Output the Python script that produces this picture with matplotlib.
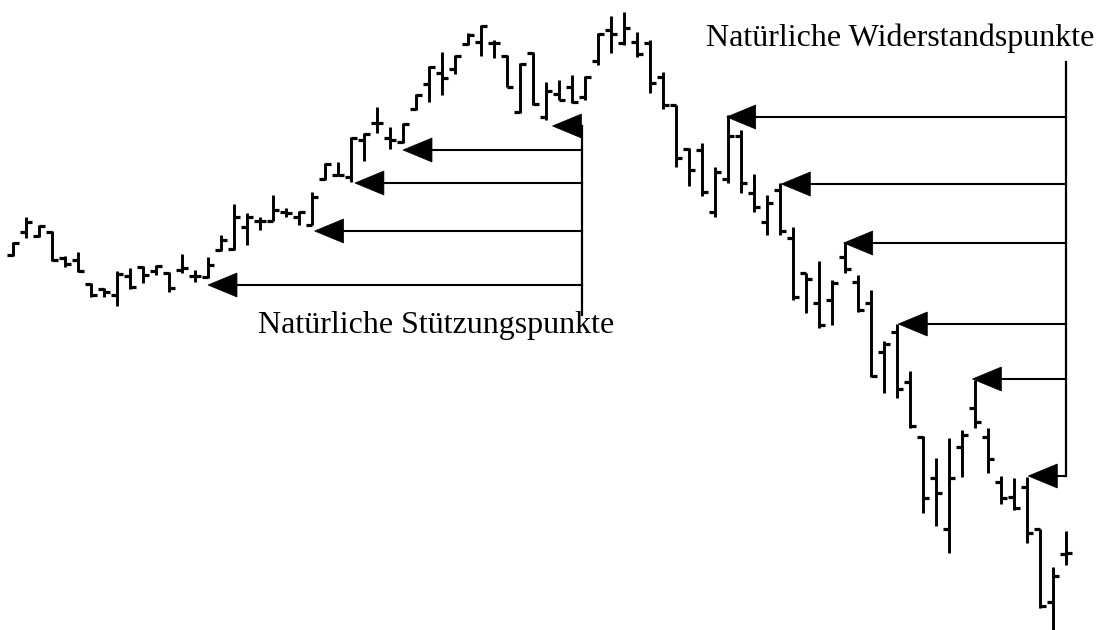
import matplotlib
matplotlib.use("Agg")
import matplotlib.pyplot as plt
import numpy as np

# OHLC bars (price units), one per trading day
high = [388, 413, 405, 399, 374, 378, 347, 342, 359, 362, 364, 365, 358, 376, 360, 373,
        395, 426, 417, 413, 435, 422, 419, 438, 467, 468, 493, 497, 523, 503, 507, 536,
        564, 578, 575, 597, 605, 590, 575, 567, 578, 548, 550, 555, 554, 597, 614, 618,
        598, 590, 558, 525, 482, 487, 463, 515, 500, 456, 435, 447, 403, 357, 369, 350,
        388, 355, 340, 289, 306, 259, 194, 172, 192, 200, 250, 202, 154, 152, 153, 101,
        63, 99]
low = [374, 392, 393, 369, 363, 358, 333, 333, 324, 341, 347, 355, 338, 357, 348, 352,
       379, 380, 385, 400, 409, 413, 405, 405, 450, 455, 448, 469, 497, 481, 487, 520,
       528, 535, 556, 585, 574, 572, 543, 517, 525, 510, 530, 527, 530, 565, 577, 585,
       573, 537, 521, 463, 444, 434, 413, 447, 437, 418, 395, 395, 330, 317, 302, 305,
       357, 318, 253, 237, 232, 202, 117, 104, 77, 153, 202, 157, 126, 120, 87, 22,
       0, 65]
opn = [375, 398, 394, 398, 372, 370, 346, 341, 335, 354, 363, 359, 357, 360, 354, 353,
       380, 381, 403, 409, 409, 418, 413, 405, 451, 455, 453, 490, 507, 492, 488, 521,
       546, 557, 561, 586, 588, 587, 574, 518, 577, 513, 536, 543, 533, 569, 600, 587,
       588, 587, 553, 525, 481, 480, 418, 451, 494, 437, 408, 440, 392, 357, 327, 330,
       373, 348, 327, 278, 298, 248, 193, 152, 101, 183, 222, 193, 148, 133, 143, 101,
       28, 76]
close = [387, 408, 404, 370, 366, 359, 335, 338, 356, 343, 355, 364, 342, 362, 354, 365,
         390, 413, 413, 409, 420, 417, 418, 433, 466, 455, 492, 496, 507, 490, 506, 535,
         563, 552, 574, 595, 604, 587, 543, 566, 526, 539, 530, 528, 553, 596, 596, 602,
         576, 547, 525, 472, 460, 438, 458, 494, 447, 423, 427, 399, 333, 351, 305, 347,
         361, 320, 254, 286, 241, 204, 132, 137, 152, 195, 208, 171, 132, 122, 97, 24,
         54, 77]

# Support levels (left group) and the day each arrow points at
support_levels = [504, 480, 447, 399, 345]
support_tips = [41.5, 30.0, 26.3, 23.2, 15.0]
support_anchor = 43.8
support_bottom = 315

# Resistance levels (right group)
resist_levels = [513, 446, 387, 306, 251, 154]
resist_tips = [54.9, 59.1, 63.9, 68.1, 73.8, 78.1]
resist_anchor = 81.0
resist_top = 568

label_resist = "Natürliche Widerstandspunkte"
label_support = "Natürliche Stützungspunkte"

W, H = 1099, 630
fig = plt.figure(figsize=(W / 100, H / 100), dpi=100)
ax = fig.add_axes([0, 0, 1, 1])
ax.set_xlim(-1, (W - 13) / 13)
ax.set_ylim(0, H)
ax.axis("off")

# pixel scale helpers
xpp = 1 / 13.0   # x data units per pixel
ypp = 1.0        # y data units per pixel

tick = 6 * xpp
for i, (h, l, o, c) in enumerate(zip(high, low, opn, close)):
    ax.plot([i, i], [l, h], color="black", lw=2.1, solid_capstyle="butt")
    ax.plot([i - tick, i], [o, o], color="black", lw=2.3, solid_capstyle="butt")
    ax.plot([i, i + tick], [c, c], color="black", lw=2.3, solid_capstyle="butt")

head_len = 29 * xpp
head_half = 12 * ypp


def arrow(tip_x, level, end_x):
    ax.plot([tip_x + head_len * 0.8, end_x], [level, level], color="black", lw=1.5)
    ax.fill([tip_x, tip_x + head_len, tip_x + head_len],
            [level, level + head_half, level - head_half], color="black", lw=0.5)


for lv, tx in zip(support_levels, support_tips):
    arrow(tx, lv, support_anchor)
ax.plot([support_anchor, support_anchor], [max(support_levels), support_bottom],
        color="black", lw=1.6)

for lv, tx in zip(resist_levels, resist_tips):
    arrow(tx, lv, resist_anchor)
ax.plot([resist_anchor, resist_anchor], [resist_top, min(resist_levels)],
        color="black", lw=1.6)

ax.text((706 - 13) * xpp, H - 46, label_resist, family="Liberation Serif",
        fontsize=23, ha="left", va="baseline", color="black")
ax.text((258 - 13) * xpp, H - 333, label_support, family="Liberation Serif",
        fontsize=23, ha="left", va="baseline", color="black")

fig.savefig("out.png", dpi=100, facecolor="white")
